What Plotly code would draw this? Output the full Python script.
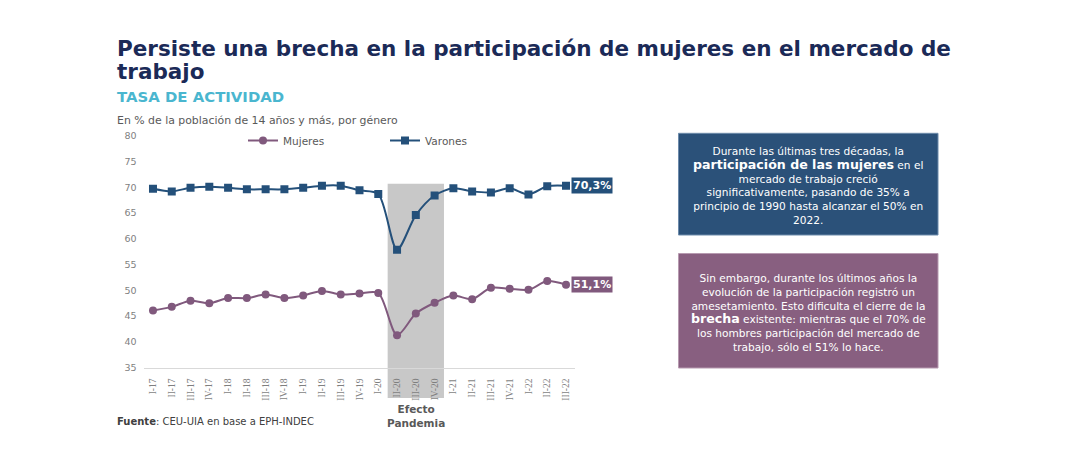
import plotly.graph_objects as go

W, H = 1080, 472

categories = ["I-17", "II-17", "III-17", "IV-17", "I-18", "II-18", "III-18", "IV-18",
              "I-19", "II-19", "III-19", "IV-19", "I-20", "II-20", "III-20", "IV-20",
              "I-21", "II-21", "III-21", "IV-21", "I-22", "II-22", "III-22"]
varones = [69.7, 69.2, 69.9, 70.1, 69.9, 69.6, 69.6, 69.6, 69.9, 70.3, 70.3, 69.4,
           68.7, 57.9, 64.6, 68.4, 69.8, 69.2, 69.0, 69.8, 68.6, 70.2, 70.3]
mujeres = [46.1, 46.8, 48.0, 47.5, 48.5, 48.5, 49.2, 48.5, 49.0, 49.9, 49.2, 49.4,
           49.5, 41.3, 45.5, 47.6, 49.0, 48.3, 50.5, 50.3, 50.1, 51.8, 51.1]
yticks = [35, 40, 45, 50, 55, 60, 65, 70, 75, 80]
label_varones = "70,3%"
label_mujeres = "51,1%"
pandemia_start, pandemia_end = "II-20", "IV-20"
pandemia_top = 70.7

C_VAR = "#24507a"
C_MUJ = "#80597d"
C_BOX1 = "#2b5179"
C_BOX2 = "#885f80"
GRAY = "#595959"

def px(x):
    return x / W

def py(y):
    return (H - y) / H

xd = [px(143.6), px(575.4)]
yd = [py(367.7), py(135.7)]
YMIN, YMAX = 35, 80

fig = go.Figure()
fig.add_trace(go.Scatter(
    x=categories, y=mujeres, name="Mujeres", mode="lines+markers",
    line=dict(color=C_MUJ, width=2, shape="spline", smoothing=0.8),
    marker=dict(symbol="circle", size=8, color=C_MUJ)))
fig.add_trace(go.Scatter(
    x=categories, y=varones, name="Varones", mode="lines+markers",
    line=dict(color=C_VAR, width=2, shape="spline", smoothing=0.8),
    marker=dict(symbol="square", size=8, color=C_VAR)))

i0 = categories.index(pandemia_start) - 0.5
i1 = categories.index(pandemia_end) + 0.5
ytop_paper = yd[0] + (pandemia_top - YMIN) / (YMAX - YMIN) * (yd[1] - yd[0])
shapes = [
    dict(type="rect", xref="x", yref="paper", x0=i0, x1=i1, y0=py(398), y1=ytop_paper,
         fillcolor="#c8c8c8", line=dict(width=0), layer="below"),
    dict(type="rect", xref="paper", yref="paper", x0=px(678.5), x1=px(938), y0=py(235),
         y1=py(133.3), fillcolor=C_BOX1, line=dict(color="#6d8bab", width=1), layer="below"),
    dict(type="rect", xref="paper", yref="paper", x0=px(678.5), x1=px(938), y0=py(368),
         y1=py(253.5), fillcolor=C_BOX2, line=dict(color="#b79ab0", width=1), layer="below"),
]

FONT = "DejaVu Sans"
ann = []
title = ("<span style='font-size:21.5px'><b>Persiste una brecha en la participación de mujeres "
         "en el mercado de</b></span><br><span style='font-size:21.5px'><b>trabajo</b></span>")
ann.append(dict(xref="paper", yref="paper", x=px(115), y=py(60), xanchor="left", yanchor="middle",
                text=title, align="left",
                font=dict(family=FONT, size=17.5, color="#1b2a57"), showarrow=False))
ann.append(dict(xref="paper", yref="paper", x=px(115), y=py(97.5), xanchor="left", yanchor="middle",
                text="<b>TASA DE ACTIVIDAD</b>", font=dict(family=FONT, size=14.9, color="#4ab6cf"),
                showarrow=False))
ann.append(dict(xref="paper", yref="paper", x=px(115), y=py(120), xanchor="left", yanchor="middle",
                text="En % de la población de 14 años y más, por género",
                font=dict(family=FONT, size=10.9, color=GRAY), showarrow=False))
ann.append(dict(xref="paper", yref="paper", x=px(115), y=py(421), xanchor="left", yanchor="middle",
                text="<b>Fuente</b>: CEU-UIA en base a EPH-INDEC",
                font=dict(family=FONT, size=10, color="#404040"), showarrow=False))
ann.append(dict(xref="x", yref="paper", x="III-20", y=py(416), xanchor="center", yanchor="middle",
                text="<b>Efecto<br>Pandemia</b>", font=dict(family=FONT, size=10.5, color=GRAY),
                showarrow=False))
ann.append(dict(xref="x", yref="y", x=categories[-1], y=varones[-1], xanchor="left", yanchor="middle",
                xshift=5, text="<b>" + label_varones + "</b>", bgcolor=C_VAR, borderpad=1,
                font=dict(family=FONT, size=11, color="white"), showarrow=False))
ann.append(dict(xref="x", yref="y", x=categories[-1], y=mujeres[-1], xanchor="left", yanchor="middle",
                xshift=5, text="<b>" + label_mujeres + "</b>", bgcolor=C_MUJ, borderpad=1,
                font=dict(family=FONT, size=11, color="white"), showarrow=False))

box1 = ("Durante las últimas tres décadas, la<br>"
        "<span style='font-size:12.6px'><b>participación de las mujeres</b></span> en el<br>"
        "mercado de trabajo creció<br>"
        "significativamente, pasando de 35% a<br>"
        "principio de 1990 hasta alcanzar el 50% en<br>"
        "2022.")
box2 = ("Sin embargo, durante los últimos años la<br>"
        "evolución de la participación registró un<br>"
        "amesetamiento. Esto dificulta el cierre de la<br>"
        "<span style='font-size:12.6px'><b>brecha</b></span> existente: mientras que el 70% de<br>"
        "los hombres participación del mercado de<br>"
        "trabajo, sólo el 51% lo hace.")
ann.append(dict(xref="paper", yref="paper", x=px(808), y=py(185.5), xanchor="center", yanchor="middle",
                text=box1, align="center", font=dict(family=FONT, size=10.6, color="white"),
                showarrow=False))
ann.append(dict(xref="paper", yref="paper", x=px(808), y=py(312), xanchor="center", yanchor="middle",
                text=box2, align="center", font=dict(family=FONT, size=10.6, color="white"),
                showarrow=False))

fig.update_layout(
    width=W, height=H,
    margin=dict(l=0, r=0, t=0, b=0, autoexpand=False),
    paper_bgcolor="white", plot_bgcolor="rgba(0,0,0,0)",
    font=dict(family=FONT, color=GRAY),
    shapes=shapes, annotations=ann,
    showlegend=True,
    legend=dict(orientation="h", x=px(243), y=py(126), xanchor="left", yanchor="top",
                font=dict(family=FONT, size=10.5, color=GRAY), bgcolor="rgba(0,0,0,0)",
                entrywidth=97, entrywidthmode="pixels", itemwidth=30),
    xaxis=dict(domain=xd, type="category", range=[-0.5, len(categories) - 0.5],
               showgrid=False, showline=True, linecolor="#d9d9d9", linewidth=1,
               ticks="", tickangle=-90, ticklabelstandoff=6,
               tickfont=dict(family="Liberation Serif", size=9.5, color="#7f7f7f"),
               automargin=False, fixedrange=True),
    yaxis=dict(domain=yd, range=[YMIN, YMAX], tickvals=yticks,
               showgrid=False, zeroline=False, showline=False, ticks="",
               ticklabelstandoff=6,
               tickfont=dict(family=FONT, size=9.5, color="#7f7f7f"),
               automargin=False, fixedrange=True),
)

fig.write_html("out.html")
